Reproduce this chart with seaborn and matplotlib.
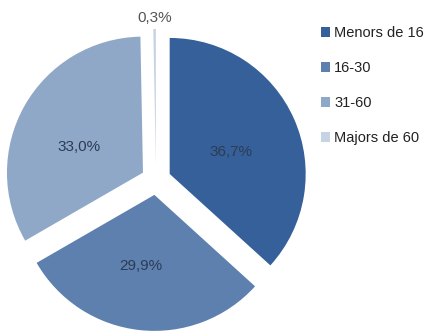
import matplotlib
matplotlib.use("Agg")
import matplotlib.pyplot as plt
from matplotlib.patches import Patch
import numpy as np
import seaborn as sns

# Age groups and their share of the population (%)
groups = ["Menors de 16", "16-30", "31-60", "Majors de 60"]
shares = [36.7, 29.9, 33.0, 0.3]
colors = ["#36609a", "#5d80ae", "#8fa8c8", "#c6d3e3"]

sns.set_theme(style="white")
plt.rcParams["font.family"] = ["Liberation Sans", "DejaVu Sans"]

W, H = 426, 333
fig = plt.figure(figsize=(W / 100, H / 100), dpi=100)
fig.patch.set_facecolor("white")

# axes laid out in pixels so that one data unit equals the pie radius
R = 136.0
cx, cy = 156.0, H - 180.0
ax = fig.add_axes([0, 0, 2 * cx / W, 2 * cy / H])

fmt = iter(f"{v:.1f}%".replace(".", ",") for v in shares)
wedges, texts, autotexts = ax.pie(
    shares,
    colors=colors,
    startangle=90,
    counterclock=False,
    explode=[0.11] * len(shares),
    autopct=lambda p: next(fmt),
    pctdistance=0.52,
    textprops=dict(fontsize=11, color="#2d3c54"),
    wedgeprops=dict(linewidth=0),
)
ax.set_aspect("auto")
ax.set_xlim(-cx / R, cx / R)
ax.set_ylim(-cy / R, cy / R)
ax.axis("off")

# label placement: (distance from slice centre, clockwise angle from 12 o'clock)
label_place = [(0.48, 70.5), (0.53, 191.0), (0.51, 292.0), (1.08, None)]
for w, t, (dist, cw) in zip(wedges, autotexts, label_place):
    if cw is None:
        ang = np.deg2rad((w.theta1 + w.theta2) / 2)
    else:
        ang = np.deg2rad(90.0 - cw)
    x0, y0 = w.center
    t.set_position((x0 + dist * np.cos(ang), y0 + dist * np.sin(ang)))
autotexts[-1].set_color("#555555")

handles = [Patch(facecolor=c, edgecolor="none") for c in colors]
fig.legend(
    handles, groups,
    loc="upper left",
    bbox_to_anchor=(321 / W, 1 - 26 / H),
    frameon=False,
    fontsize=10.5,
    handlelength=0.62,
    handleheight=0.62,
    handletextpad=0.28,
    labelspacing=1.44,
    borderaxespad=0,
    borderpad=0,
    labelcolor="#222222",
)

fig.savefig("out.png", dpi=100, facecolor="white")
